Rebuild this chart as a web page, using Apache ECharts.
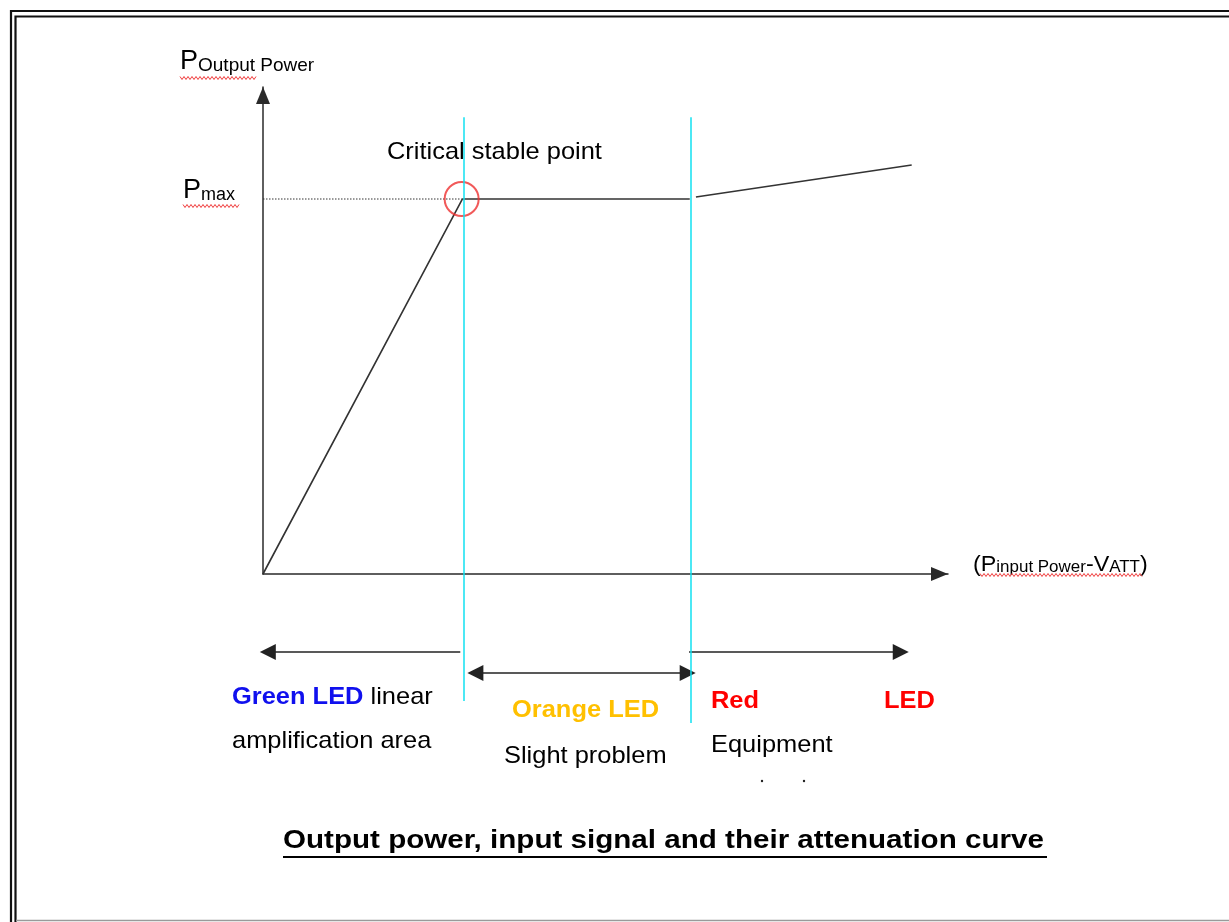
<!DOCTYPE html>
<html>
<head>
<meta charset="utf-8">
<title>Output power, input signal and their attenuation curve</title>
<script src="https://cdn.jsdelivr.net/npm/echarts@6/dist/echarts.min.js"></script>
<style>
html, body { margin: 0; padding: 0; background: #fff; }
#chart { width: 1229px; height: 922px; }
</style>
</head>
<body>
<div id="chart"></div>
<script>
// values, axis units 0..100 on both axes
const riseIn = [0, 29.1];
const riseOut = [0, 77.0];
const flatIn = [29.1, 62.3];
const pMax = 77.0;
const overIn = [63.2, 94.7];
const overOut = [77.4, 84.0];
const criticalPoint = [29.0, 77.0];
const zoneEdges = [29.3, 62.5];

// lower strip under the x axis (grid 1, y counts downward)
const edgeTop = 93.8;
const edgeBottoms = [63.5, 74.5];
const singleArrowFrom = [28.8, 62.2];
const singleArrowTo = [0.7, 93.1];
const singleArrowRow = 39;
const doubleArrowEnds = [31.0, 62.0];
const doubleArrowRow = 49.5;

const FONT = '"Liberation Sans", Arial, Helvetica, sans-serif';
const zip = (a, b) => a.map((v, i) => [v, b[i]]);

// red spell-check wave under a word
function squiggle(x0, x1, y) {
    const pts = [];
    for (let x = x0, i = 0; x <= x1; x += 2, i++) {
        pts.push([x, y + (i % 2 ? 1.5 : -1.5)]);
    }
    return {
        type: "polyline",
        silent: true,
        shape: { points: pts },
        style: { stroke: "#f03c3c", lineWidth: 1, fill: "none" }
    };
}

function label(x, y, text, opts) {
    opts = opts || {};
    return {
        type: "text",
        x: x,
        y: y,
        scaleX: opts.scaleX || 1.06,
        silent: true,
        style: {
            text: text,
            fill: opts.color || "#000",
            fontFamily: FONT,
            fontSize: opts.size || 24,
            fontWeight: opts.bold ? "bold" : "normal",
            align: "left",
            verticalAlign: "middle"
        }
    };
}

const chart = echarts.init(document.getElementById("chart"));

const hiddenAxis = { show: false, min: 0, max: 100 };
const arrowAxisLine = {
    show: true,
    symbol: ["none", "triangle"],
    symbolSize: [14, 17],
    symbolOffset: [0, -8.5],
    lineStyle: { color: "#2a2a2a", width: 1.5 }
};

chart.setOption({
    animation: false,
    backgroundColor: "#fff",
    grid: [
        { left: 263, top: 87, width: 685, height: 487 },
        { left: 263, top: 574, width: 685, height: 200 }
    ],
    xAxis: [
        {
            gridIndex: 0, type: "value", min: 0, max: 100,
            axisLine: arrowAxisLine,
            axisTick: { show: false }, axisLabel: { show: false }, splitLine: { show: false }
        },
        Object.assign({ gridIndex: 1, type: "value" }, hiddenAxis)
    ],
    yAxis: [
        {
            gridIndex: 0, type: "value", min: 0, max: 100,
            axisLine: arrowAxisLine,
            axisTick: { show: false }, axisLabel: { show: false }, splitLine: { show: false }
        },
        Object.assign({ gridIndex: 1, type: "value", inverse: true }, hiddenAxis)
    ],
    series: [
        {
            name: "linear + saturation",
            type: "line",
            symbol: "none",
            data: zip(riseIn, riseOut).concat([[flatIn[1], pMax]]),
            lineStyle: { color: "#333", width: 1.6 },
            z: 3
        },
        {
            name: "overload",
            type: "line",
            symbol: "none",
            data: zip(overIn, overOut),
            lineStyle: { color: "#333", width: 1.6 },
            z: 3
        },
        {
            name: "Pmax level",
            type: "line",
            symbol: "none",
            data: [[0, pMax], [criticalPoint[0], pMax]],
            lineStyle: { color: "#333", width: 1, type: [1.5, 1.5] },
            z: 3
        },
        {
            name: "critical point",
            type: "scatter",
            data: [criticalPoint],
            symbol: "circle",
            symbolSize: 34,
            itemStyle: { color: "rgba(0,0,0,0)", borderColor: "#ee3030", borderWidth: 2 },
            z: 4
        },
        {
            name: "zone edges (upper)",
            type: "lines",
            coordinateSystem: "cartesian2d",
            xAxisIndex: 0, yAxisIndex: 0,
            clip: false,
            data: zoneEdges.map(x => ({ coords: [[x, edgeTop], [x, 0]] })),
            lineStyle: { color: "#10e0f0", width: 1.5, opacity: 1 },
            z: 5
        },
        {
            name: "zone edges (lower)",
            type: "lines",
            coordinateSystem: "cartesian2d",
            xAxisIndex: 1, yAxisIndex: 1,
            clip: false,
            data: zoneEdges.map((x, i) => ({ coords: [[x, 0], [x, edgeBottoms[i]]] })),
            lineStyle: { color: "#10e0f0", width: 1.5, opacity: 1 },
            z: 5
        },
        {
            name: "zone arrows",
            type: "lines",
            coordinateSystem: "cartesian2d",
            xAxisIndex: 1, yAxisIndex: 1,
            clip: false,
            symbol: ["none", "triangle"],
            symbolSize: 16,
            data: singleArrowFrom.map((x, i) => ({
                coords: [[x, singleArrowRow], [singleArrowTo[i], singleArrowRow]]
            })),
            lineStyle: { color: "#222", width: 1.5, opacity: 1 },
            z: 3
        },
        {
            name: "orange zone arrow",
            type: "lines",
            coordinateSystem: "cartesian2d",
            xAxisIndex: 1, yAxisIndex: 1,
            clip: false,
            symbol: ["triangle", "triangle"],
            symbolSize: 16,
            data: [{ coords: [[doubleArrowEnds[0], doubleArrowRow], [doubleArrowEnds[1], doubleArrowRow]] }],
            lineStyle: { color: "#222", width: 1.5, opacity: 1 },
            z: 3
        }
    ],
    graphic: [
        // double frame of the page
        {
            type: "polyline", silent: true,
            shape: { points: [[1240, 11], [11, 11], [11, 930]] },
            style: { stroke: "#111", lineWidth: 2.2, fill: "none" }
        },
        {
            type: "polyline", silent: true,
            shape: { points: [[1240, 16.5], [15.5, 16.5], [15.5, 930]] },
            style: { stroke: "#111", lineWidth: 2.2, fill: "none" }
        },
        {
            type: "line", silent: true,
            shape: { x1: 16, y1: 920.5, x2: 1240, y2: 920.5 },
            style: { stroke: "#9a9a9a", lineWidth: 1.5 }
        },

        // axis names with subscripts
        {
            type: "text", x: 180, y: 75, silent: true,
            style: {
                text: "{p|P}{s|Output Power}",
                align: "left", verticalAlign: "bottom",
                rich: {
                    p: { fontFamily: FONT, fontSize: 27, lineHeight: 29, fill: "#000", verticalAlign: "bottom" },
                    s: { fontFamily: FONT, fontSize: 19, lineHeight: 19, fill: "#000", verticalAlign: "bottom" }
                }
            }
        },
        squiggle(180, 257, 78),
        {
            type: "text", x: 183, y: 204, silent: true,
            style: {
                text: "{p|P}{s|max}",
                align: "left", verticalAlign: "bottom",
                rich: {
                    p: { fontFamily: FONT, fontSize: 27, lineHeight: 31, fill: "#000", verticalAlign: "bottom" },
                    s: { fontFamily: FONT, fontSize: 18, lineHeight: 18, fill: "#000", verticalAlign: "bottom" }
                }
            }
        },
        squiggle(183, 240, 206),
        {
            type: "text", x: 973, y: 575.5, scaleX: 1.06, silent: true,
            style: {
                text: "{p|(P}{s|input Power}{p|-V}{s|ATT}{p|)}",
                align: "left", verticalAlign: "bottom",
                rich: {
                    p: { fontFamily: FONT, fontSize: 22, lineHeight: 26, fill: "#000", verticalAlign: "bottom" },
                    s: { fontFamily: FONT, fontSize: 16, lineHeight: 16, fill: "#000", verticalAlign: "bottom" }
                }
            }
        },
        squiggle(980, 1143, 575),

        label(387, 152, "Critical stable point"),

        // zone captions
        {
            type: "text", x: 232, y: 697, scaleX: 1.06, silent: true,
            style: {
                text: "{g|Green LED}{k| linear}",
                align: "left", verticalAlign: "middle",
                rich: {
                    g: { fontFamily: FONT, fontSize: 24, fontWeight: "bold", fill: "#1010ee" },
                    k: { fontFamily: FONT, fontSize: 24, fill: "#000" }
                }
            }
        },
        label(232, 741, "amplification area"),
        label(512, 710, "Orange LED", { bold: true, color: "#ffc000" }),
        label(504, 756, "Slight problem"),
        label(711, 701, "Red", { bold: true, color: "#ff0000" }),
        label(884, 701, "LED", { bold: true, color: "#ff0000" }),
        label(711, 745, "Equipment"),
        { type: "circle", silent: true, shape: { cx: 762, cy: 781, r: 1.2 }, style: { fill: "#222" } },
        { type: "circle", silent: true, shape: { cx: 804, cy: 781, r: 1.2 }, style: { fill: "#222" } },

        // underlined caption
        label(283, 841, "Output power, input signal and their attenuation curve", { bold: true, size: 25.5, scaleX: 1.16 }),
        {
            type: "line", silent: true,
            shape: { x1: 283, y1: 857, x2: 1047, y2: 857 },
            style: { stroke: "#000", lineWidth: 2.2 }
        }
    ]
});
</script>
</body>
</html>
